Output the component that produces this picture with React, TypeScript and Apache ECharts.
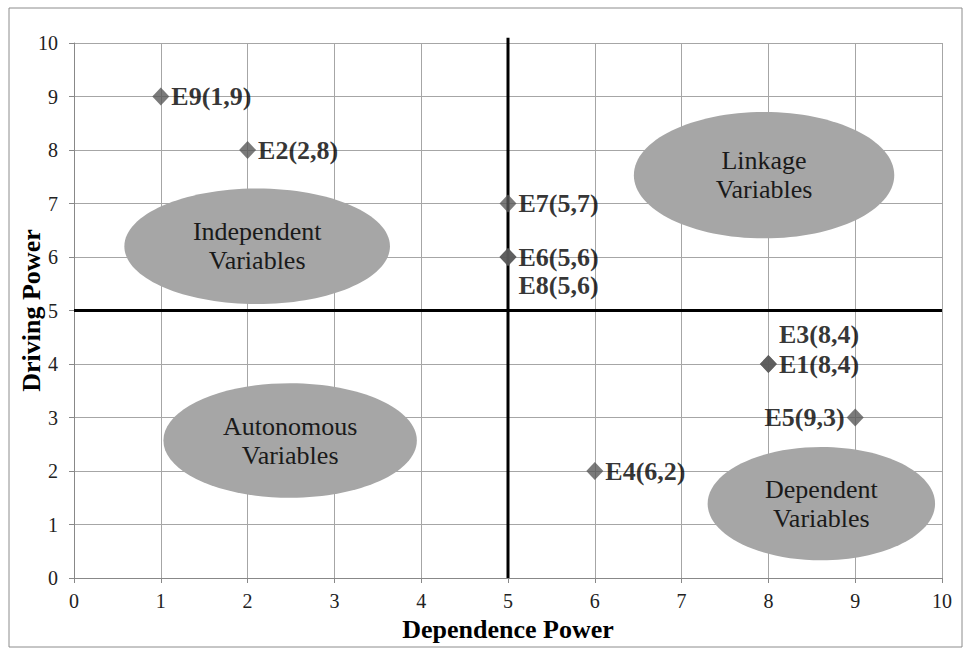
import React, { useEffect, useRef } from "react";
import * as echarts from "echarts";

const pointNames = ["E9(1,9)", "E2(2,8)", "E7(5,7)", "E6(5,6)", "E8(5,6)", "E3(8,4)", "E1(8,4)", "E5(9,3)", "E4(6,2)"];
const dependence = [1, 2, 5, 5, 5, 8, 8, 9, 6];
const driving = [9, 8, 7, 6, 6, 4, 4, 3, 2];
const labelSide = ["right", "right", "right", "right", "below", "above", "right", "left", "right"];

const regionNames = ["Linkage\nVariables", "Independent\nVariables", "Autonomous\nVariables", "Dependent\nVariables"];
const regionCx = [7.95, 2.11, 2.49, 8.61];
const regionCy = [7.53, 6.2, 2.57, 1.39];
const regionRx = [1.5, 1.53, 1.46, 1.31];
const regionRy = [1.18, 1.08, 1.07, 1.06];

const divider = 5;

export default function App() {
  const ref = useRef<HTMLDivElement>(null);
  useEffect(() => {
    const chart = echarts.init(ref.current!, null, { renderer: "svg" });
    const serif = "Liberation Serif";
    const pointData = pointNames.map((n, i) => {
      const side = labelSide[i];
      let label: any = { position: "right", offset: [0, 0] };
      if (side === "left") label = { position: "left", offset: [0, 0] };
      if (side === "below") label = { position: "right", offset: [0, 28] };
      if (side === "above") label = { position: "right", offset: [0, -30] };
      return { name: n, value: [dependence[i], driving[i]], label };
    });
    const regionData = regionNames.map((n, i) => ({
      name: n,
      value: [regionCx[i], regionCy[i], regionRx[i], regionRy[i]],
    }));
    chart.setOption({
      animation: false,
      backgroundColor: "#ffffff",
      textStyle: { fontFamily: serif },
      grid: { left: 74, right: 22, top: 43, bottom: 71, containLabel: false, outerBoundsMode: "none" },
      graphic: [
        {
          type: "rect",
          shape: { x: 9, y: 8, width: 953, height: 639 },
          style: { fill: "none", stroke: "#8c8c8c", lineWidth: 1 },
          z: -1,
        },
      ],
      xAxis: {
        type: "value",
        min: 0,
        max: 10,
        interval: 1,
        name: "Dependence Power",
        nameLocation: "middle",
        nameGap: 38,
        nameTextStyle: { fontFamily: serif, fontWeight: "bold", fontSize: 26, color: "#000" },
        axisLine: { show: true, onZero: false, lineStyle: { color: "#888", width: 1 } },
        axisTick: { show: true, length: 5, lineStyle: { color: "#888" } },
        axisLabel: { fontFamily: serif, fontSize: 20, color: "#222", margin: 13 },
        splitLine: { show: true, lineStyle: { color: "#a6a6a6", width: 1 } },
      },
      yAxis: {
        type: "value",
        min: 0,
        max: 10,
        interval: 1,
        name: "Driving Power",
        nameLocation: "middle",
        nameGap: 30,
        nameMoveOverlap: false,
        nameTextStyle: { fontFamily: serif, fontWeight: "bold", fontSize: 26, color: "#000" },
        axisLine: { show: true, onZero: false, lineStyle: { color: "#888", width: 1 } },
        axisTick: { show: true, length: 5, lineStyle: { color: "#888" } },
        axisLabel: { fontFamily: serif, fontSize: 20, color: "#222", margin: 16 },
        splitLine: { show: true, lineStyle: { color: "#a6a6a6", width: 1 } },
      },
      series: [
        {
          type: "custom",
          z: 3,
          clip: false,
          data: regionData,
          renderItem: (params: any, api: any) => {
            const c = api.coord([api.value(0), api.value(1)]);
            const s = api.size([api.value(2), api.value(3)]);
            const name = regionNames[params.dataIndex];
            return {
              type: "group",
              children: [
                {
                  type: "ellipse",
                  shape: { cx: c[0], cy: c[1], rx: s[0], ry: s[1] },
                  style: { fill: "#a6a6a6", stroke: "none" },
                },
                {
                  type: "text",
                  x: c[0],
                  y: c[1],
                  style: {
                    text: name,
                    fill: "#1a1a1a",
                    fontFamily: serif,
                    fontSize: 26,
                    align: "center",
                    verticalAlign: "middle",
                    lineHeight: 29,
                  },
                },
              ],
            };
          },
        },
        {
          type: "line",
          z: 4,
          clip: false,
          symbol: "none",
          data: [[divider, 0], [divider, 10.1]],
          lineStyle: { color: "#000", width: 3 },
        },
        {
          type: "line",
          z: 4,
          clip: false,
          symbol: "none",
          data: [[0, divider], [10, divider]],
          lineStyle: { color: "#000", width: 3 },
        },
        {
          type: "scatter",
          z: 5,
          symbol: "diamond",
          symbolSize: [17, 18],
          itemStyle: { color: "#595959" },
          data: pointData,
          label: {
            show: true,
            formatter: (p: any) => p.name,
            fontFamily: serif,
            fontWeight: "bold",
            fontSize: 26,
            color: "#000",
            distance: 2,
          },
        },
      ],
    });
    return () => chart.dispose();
  }, []);
  return <div ref={ref} style={{ width: 964, height: 649, position: "absolute", left: 0, top: 0 }} />;
}
